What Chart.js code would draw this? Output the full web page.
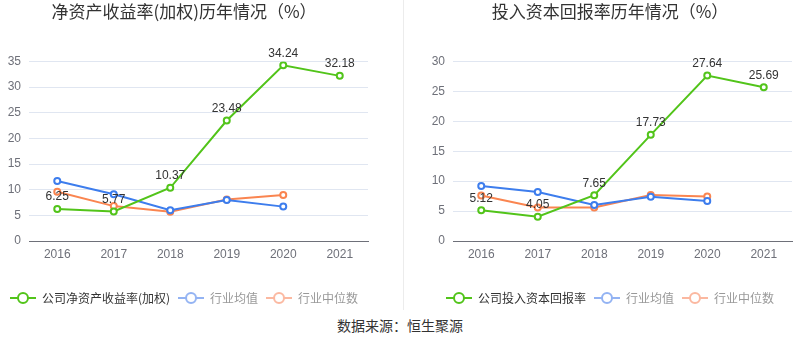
<!DOCTYPE html>
<html>
<head>
<meta charset="utf-8">
<script src="https://cdn.jsdelivr.net/npm/chart.js@4"></script>
<style>
  body { margin: 0; background: #fff; width: 800px; height: 358px; position: relative; overflow: hidden; }
  .box { position: absolute; top: 0; width: 400px; height: 314px; }
  #left { left: 0; }
  #right { left: 400px; }
  #divider { position: absolute; left: 403px; top: 0; width: 1px; height: 310px; background: #ececec; }
  #source { position: absolute; left: 0; width: 800px; top: 315px; text-align: center;
            font: 14px "Noto Sans CJK SC", sans-serif; color: #333; }
</style>
</head>
<body>
<div class="box" id="left"><canvas id="roeChart" width="400" height="314"></canvas></div>
<div id="divider"></div>
<div class="box" id="right"><canvas id="roicChart" width="400" height="314"></canvas></div>
<div id="source">数据来源：恒生聚源</div>
<script>
const years = ["2016", "2017", "2018", "2019", "2020", "2021"];

// 净资产收益率(加权)
const roeCompany = [6.25, 5.77, 10.37, 23.48, 34.24, 32.18];
const roeAvg = [11.7, 9.1, 6.0, 8.0, 6.7, null];
const roeMedian = [9.6, 6.8, 5.7, 8.1, 8.95, null];

// 投入资本回报率
const roicCompany = [5.12, 4.05, 7.65, 17.73, 27.64, 25.69];
const roicAvg = [9.2, 8.2, 6.0, 7.4, 6.7, null];
const roicMedian = [7.6, 5.6, 5.6, 7.7, 7.45, null];

const GREEN = "#52c41a";
const BLUE = "#3d7ded";
const ORANGE = "#fa8550";
const FONT = "'Liberation Sans', 'Noto Sans CJK SC', sans-serif";

function legendIcon(color) {
  const c = document.createElement("canvas");
  c.width = 26; c.height = 14;
  const g = c.getContext("2d");
  g.strokeStyle = color;
  g.lineWidth = 2;
  g.beginPath(); g.moveTo(0, 7); g.lineTo(26, 7); g.stroke();
  g.fillStyle = "#fff";
  g.beginPath(); g.arc(13, 7, 5, 0, Math.PI * 2); g.fill(); g.stroke();
  return c;
}

const valueLabels = {
  id: "valueLabels",
  afterDatasetsDraw(chart) {
    const ctx = chart.ctx;
    const meta = chart.getDatasetMeta(0);
    const data = chart.data.datasets[0].data;
    ctx.save();
    ctx.font = "12px " + FONT;
    ctx.fillStyle = "#333";
    ctx.textAlign = "center";
    ctx.textBaseline = "bottom";
    meta.data.forEach((pt, i) => {
      ctx.fillText(data[i].toFixed(2), pt.x, pt.y - 6);
    });
    ctx.restore();
  }
};

function lineSet(label, data, color) {
  return {
    label: label,
    data: data,
    borderColor: color,
    backgroundColor: "#fff",
    borderWidth: 2,
    pointRadius: 3,
    pointBorderWidth: 2,
    pointBackgroundColor: "#fff",
    tension: 0,
    fill: false
  };
}

function setupChart(ctx, title, label, company, avg, median, yMax, yWidth, padding) {
  const icons = [legendIcon(GREEN), legendIcon("#93b3f3"), legendIcon("#fbb8a0")];
  const textColors = ["#333", "#999", "#999"];
  return new Chart(ctx, {
    type: "line",
    data: {
      labels: years,
      datasets: [
        lineSet(label, company, GREEN),
        lineSet("行业均值", avg, BLUE),
        lineSet("行业中位数", median, ORANGE)
      ]
    },
    options: {
      animation: false,
      responsive: false,
      layout: { padding: padding },
      plugins: {
        title: {
          display: true,
          text: title,
          color: "#333",
          font: { size: 17, family: "'Noto Sans CJK SC', sans-serif", weight: "normal" },
          padding: { top: 1, bottom: 40 }
        },
        legend: {
          position: "bottom",
          labels: {
            usePointStyle: true,
            pointStyleWidth: 26,
            boxHeight: 12,
            padding: 8,
            font: { size: 12, family: "'Noto Sans CJK SC', sans-serif" },
            generateLabels(chart) {
              return chart.data.datasets.map((ds, i) => ({
                text: ds.label,
                pointStyle: icons[i],
                fillStyle: "#fff",
                strokeStyle: ds.borderColor,
                lineWidth: 0,
                fontColor: textColors[i],
                hidden: false,
                datasetIndex: i
              }));
            }
          }
        },
        tooltip: { enabled: false }
      },
      scales: {
        x: {
          offset: true,
          grid: { display: false, drawTicks: true, tickLength: 5, tickColor: "#6e7079" },
          border: { color: "#6e7079" },
          ticks: { color: "#6e7079", font: { size: 12, family: FONT }, padding: 1, maxRotation: 0 },
          afterFit(scale) { scale.height = 43; }
        },
        y: {
          min: 0,
          max: yMax,
          ticks: { stepSize: 5, color: "#6e7079", font: { size: 12, family: FONT }, padding: 8 },
          grid: { color: "#e0e6f1", drawTicks: false },
          border: { display: false },
          afterFit(scale) { scale.width = yWidth; }
        }
      }
    },
    plugins: [valueLabels]
  });
}

setupChart(document.getElementById("roeChart"), "净资产收益率(加权)历年情况（%）", "公司净资产收益率(加权)",
  roeCompany, roeAvg, roeMedian, 35, 29, { left: 0, right: 32, top: 0, bottom: 0 });
setupChart(document.getElementById("roicChart"), "投入资本回报率历年情况（%）", "公司投入资本回报率",
  roicCompany, roicAvg, roicMedian, 30, 25, { left: 28, right: 8, top: 0, bottom: 0 });
</script>
</body>
</html>
